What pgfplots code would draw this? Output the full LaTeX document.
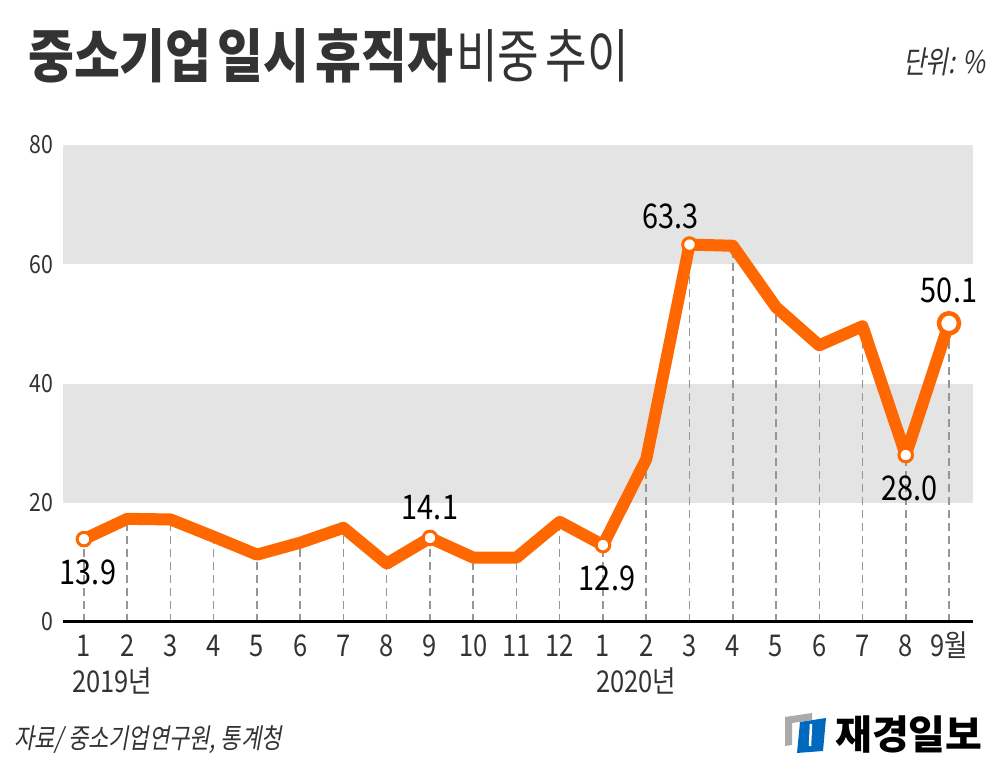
\documentclass[border=0pt]{standalone}
\usepackage{pgfplots}
\pgfplotsset{compat=1.18}
\usepackage{pgfplotstable}
\usepackage{fontspec}
\setmainfont[FakeStretch=0.85]{Noto Sans CJK KR}
\newfontfamily\titlefont[FakeStretch=0.86]{Noto Sans CJK KR}
\newfontfamily\titlereg[FakeStretch=0.78]{Noto Sans CJK KR}
\newfontfamily\itfont[FakeStretch=0.8,FakeSlant=0.18]{Noto Sans CJK KR}
\newfontfamily\logofont{Noto Sans CJK KR}
\definecolor{lineorange}{RGB}{255,104,0}
\definecolor{band}{RGB}{228,228,228}
\definecolor{txt}{RGB}{51,51,51}
\definecolor{dashc}{RGB}{150,150,150}
\definecolor{logoblue}{RGB}{0,105,190}
\definecolor{logogray}{RGB}{170,170,170}
\pgfplotstableread{
x y
0 13.9
1 17.3
2 17.2
3 14.3
4 11.3
5 13.3
6 15.8
7 9.8
8 14.1
9 10.8
10 10.8
11 16.8
12 12.9
13 27.3
14 63.3
15 63.1
16 52.8
17 46.4
18 49.6
19 28.0
20 50.1
}\datatable
\pgfplotstableread{
x y
0 13.9
12 12.9
19 28.0
}\belowtable
\pgfplotstableread{
x y
8 14.1
}\abovetable
\pgfplotstableread{
x y
14 63.3
}\peaktable
\pgfplotstableread{
x y
20 50.1
}\lasttable
\begin{document}
\begin{tikzpicture}[x=1pt,y=1pt]
\fill[white] (0,0) rectangle (1007,763);
\begin{axis}[
  at={(63.4pt,141pt)}, anchor=south west,
  scale only axis, width=909.6pt, height=477pt,
  xmin=-0.476, xmax=20.555, ymin=0, ymax=80,
  axis x line*=bottom, axis y line*=left,
  x axis line style={line width=3pt, black, -},
  y axis line style={draw=none},
  major tick length=0pt,
  xtick={0,...,20},
  xticklabels={1,2,3,4,5,6,7,8,9,10,11,12,1,2,3,4,5,6,7,8,9월},
  ytick={0,20,40,60,80},
  clip=false,
  axis on top,
  /pgf/number format/assume math mode=true,
  tick label style={text=txt},
  xticklabel style={font=\fontsize{30}{30}\selectfont, anchor=base, inner sep=0pt, yshift=-35pt},
  yticklabel style={font=\fontsize{25}{25}\selectfont, anchor=east, inner sep=0pt, xshift=-10pt},
]
\fill[band] (axis cs:-0.476,20) rectangle (axis cs:20.555,40);
\fill[band] (axis cs:-0.476,60) rectangle (axis cs:20.555,80);
\addplot[ycomb, draw=dashc, line width=1.5pt, dash pattern=on 8pt off 5pt, mark=none] table[x=x,y=y]{\datatable};
\addplot[lineorange, line width=12pt, line join=round, line cap=round, mark=none] table[x=x,y=y]{\datatable};
\addplot[only marks, mark=*, mark size=6.8pt, mark options={fill=white, draw=lineorange, line width=3pt},
  point meta=y,
  nodes near coords={\pgfmathprintnumber[fixed, fixed zerofill, precision=1]{\pgfplotspointmeta}},
  nodes near coords style={font=\fontsize{34}{34}\selectfont, text=black, anchor=north, inner sep=0pt, yshift=-19pt, xshift=4pt}]
  table[x=x,y=y]{\belowtable};
\addplot[only marks, mark=*, mark size=6.8pt, mark options={fill=white, draw=lineorange, line width=3pt},
  point meta=y,
  nodes near coords={\pgfmathprintnumber[fixed, fixed zerofill, precision=1]{\pgfplotspointmeta}},
  nodes near coords style={font=\fontsize{34}{34}\selectfont, text=black, anchor=south, inner sep=0pt, yshift=16pt}]
  table[x=x,y=y]{\abovetable};
\addplot[only marks, mark=*, mark size=6.8pt, mark options={fill=white, draw=lineorange, line width=3pt},
  point meta=y,
  nodes near coords={\pgfmathprintnumber[fixed, fixed zerofill, precision=1]{\pgfplotspointmeta}},
  nodes near coords style={font=\fontsize{34}{34}\selectfont, text=black, anchor=south, inner sep=0pt, yshift=14pt, xshift=-19pt}]
  table[x=x,y=y]{\peaktable};
\addplot[only marks, mark=*, mark size=10pt, mark options={fill=white, draw=lineorange, line width=4.5pt},
  point meta=y,
  nodes near coords={\pgfmathprintnumber[fixed, fixed zerofill, precision=1]{\pgfplotspointmeta}},
  nodes near coords style={font=\fontsize{34}{34}\selectfont, text=black, anchor=south, inner sep=0pt, yshift=18pt}]
  table[x=x,y=y]{\lasttable};
\end{axis}
% second row of x labels
\node[anchor=base west, inner sep=0pt, text=txt, font=\fontsize{30}{30}\selectfont] at (72,70) {2019년};
\node[anchor=base west, inner sep=0pt, text=txt, font=\fontsize{30}{30}\selectfont] at (596,70) {2020년};
% title
\node[anchor=base west, inner sep=0pt, text=txt] at (28,685) {\titlefont\fontsize{58}{58}\selectfont\bfseries 중소기업\hspace{6pt}일시\hspace{6pt}휴직자\hspace{3pt}\titlereg\mdseries 비중\hspace{6pt}추이};
\node[anchor=base east, inner sep=0pt, text=txt] at (986,689) {\itfont\fontsize{31}{31}\selectfont 단위: \%};
% source
\node[anchor=base west, inner sep=0pt, text=txt] at (14,14) {\itfont\fontsize{27.5}{27.5}\selectfont 자료/ 중소기업연구원, 통계청};
% logo
\fill[logogray] (785,46) -- (812,50) -- (812,43) -- (792,40) -- (792,18) -- (785,17) -- cycle;
\fill[logoblue] (800,41) -- (826,45) -- (823,12) -- (797,10) -- cycle;
\draw[white, line width=2.5pt] (811,39) -- (810,17);
\node[anchor=base west, inner sep=0pt, text=black] at (835,13) {\logofont\bfseries\fontsize{40}{40}\selectfont 재경일보};
\end{tikzpicture}
\end{document}
